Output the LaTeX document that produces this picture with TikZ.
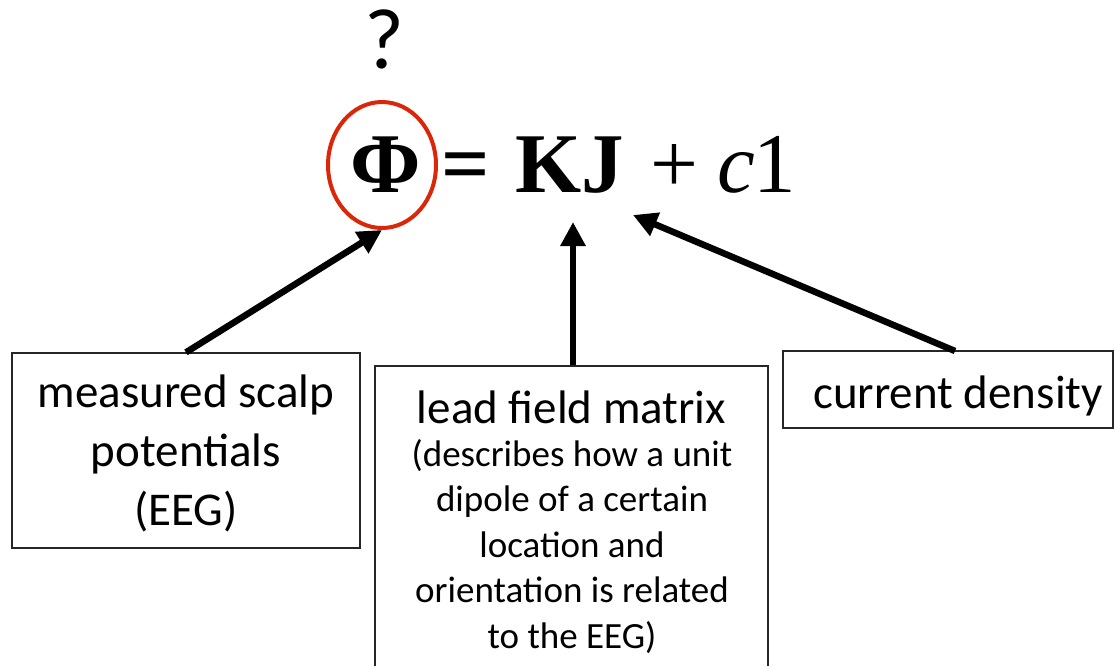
\documentclass[tikz,border=0pt]{standalone}
\usepackage{fontspec}
\setmainfont{Carlito}
\newfontfamily\eqfont{Liberation Serif}
\usetikzlibrary{arrows.meta,shapes.geometric}
\definecolor{circred}{RGB}{220,38,10}
\begin{document}
\begin{tikzpicture}[x=1pt,y=-1pt,
  box/.style={draw=black!85, line width=1.3pt, inner sep=0pt},
  big/.style={font=\fontsize{47}{59}\selectfont, inner sep=0pt, anchor=base, align=center},
  small/.style={font=\fontsize{37}{45.5}\selectfont, inner sep=0pt, anchor=base, align=center},
  eq/.style={inner sep=0pt, anchor=base},
  arr/.style={line width=6.5pt, -{Triangle[length=24pt,width=24pt]}}]
\useasboundingbox (0,0) rectangle (1115,665);
\clip (0,0) rectangle (1115,665);
% question mark
\node[eq, font=\fontsize{86}{86}\selectfont] (q) at (384,68) {?};
% equation
\node[eq, font=\eqfont\bfseries\fontsize{85}{85}\selectfont] (phi) at (386,192) {Φ};
\node[eq, font=\eqfont\bfseries\fontsize{85}{85}\selectfont] (eqs) at (466,192) {=};
\node[eq, font=\eqfont\bfseries\fontsize{85}{85}\selectfont] (kj) at (570,192) {KJ};
\node[eq, font=\eqfont\fontsize{85}{85}\selectfont] (plus) at (674,192) {+};
\node[eq, font=\eqfont\itshape\fontsize{85}{85}\selectfont] (c) at (736,192) {c};
\node[eq, font=\eqfont\fontsize{85}{85}\selectfont] (one) at (775,192) {1};
\node[draw=circred, line width=4pt, ellipse, minimum width=108pt, minimum height=126pt, inner sep=0pt] (ell) at (382,165) {};
% boxes
\node[box, minimum width=348pt, minimum height=195pt] (box1) at (186,450.5) {};
\node[box, minimum width=393pt, minimum height=340pt] (box2) at (571.5,536) {};
\node[box, minimum width=330pt, minimum height=77pt] (box3) at (948,389.5) {};
% texts (base anchor = last line's baseline)
\node[big] (t1) at (186,525) {measured scalp\\potentials\\(EEG)};
\node[big] (t2) at (571.5,423) {lead field matrix};
\node[small] (t2b) at (572,648) {(describes how a unit\\dipole of a certain\\location and\\orientation is related\\to the EEG)};
\node[big] (t3) at (958,408) {current density};
% arrow tips
\coordinate (kjtip) at (573,222);
\coordinate (ctip) at (633,215);
\coordinate (s3) at (955,351);
\draw[arr] (box1.north) -- (ell.south);
\draw[arr] (box2.north -| kjtip) -- (kjtip);
\draw[arr] (s3) -- (ctip);
\end{tikzpicture}
\end{document}
